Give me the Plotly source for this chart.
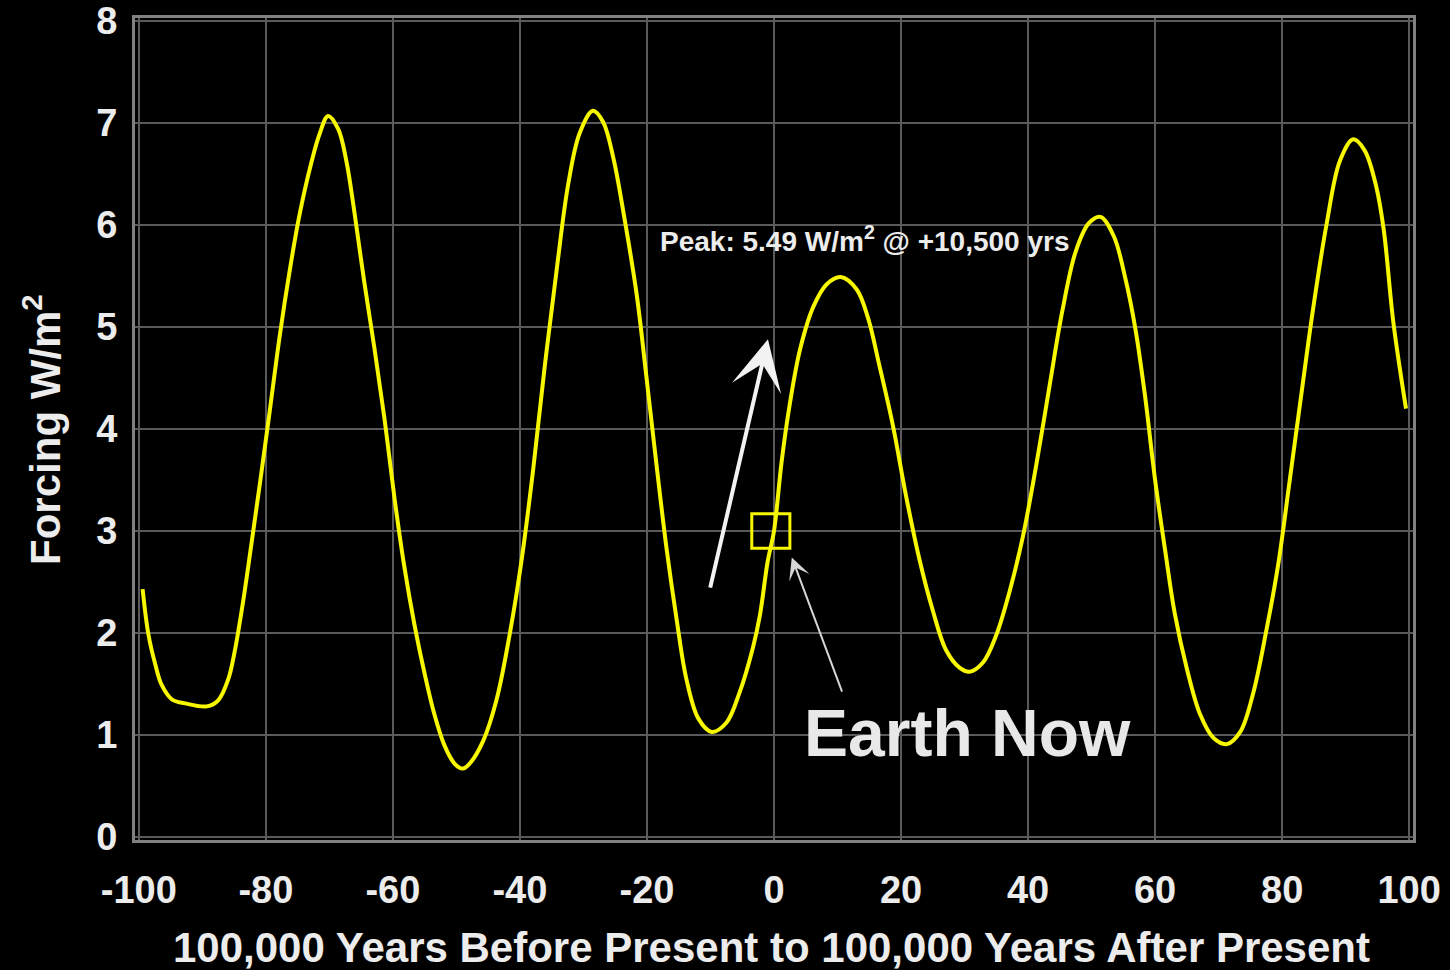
import plotly.graph_objects as go

# Orbital forcing curve, thousands of years relative to present (W/m^2)
years_kyr = [
    -99.4, -98.5, -97.4, -96.4, -94.8, -92.7, -89.3, -87.5, -85.9, -84.9,
    -83.6, -82.3, -80.9, -79.4, -77.8, -76.2, -74.7, -72.8, -71.5, -70.2,
    -68.6, -67.3, -66.0, -64.5, -62.9, -61.3, -59.7, -58.2, -56.6, -55.0,
    -53.5, -51.9, -50.3, -49.0, -47.9, -45.8, -43.7, -41.6, -39.7, -37.9,
    -36.1, -34.2, -32.4, -30.6, -28.5, -26.9, -25.3, -23.5, -21.6, -20.1,
    -18.5, -16.9, -15.3, -13.8, -11.9, -9.8, -7.5, -5.4, -3.3, -2.2,
    -1.0, 0.0, 1.2, 2.5, 4.1, 6.2, 8.3, 10.5, 13.0, 14.8,
    16.6, 18.7, 20.8, 22.9, 25.0, 27.1, 29.2, 30.8, 32.9, 35.0,
    37.1, 39.2, 41.3, 43.4, 45.4, 47.5, 49.6, 51.4, 53.5, 55.3,
    56.9, 58.4, 60.0, 61.6, 63.1, 65.0, 67.1, 69.2, 71.3, 73.4,
    75.4, 77.5, 79.4, 81.2, 83.0, 84.9, 87.0, 89.1, 91.2, 93.0,
    94.8, 96.0, 97.5, 99.5,
]
forcing = [
    2.43, 1.99, 1.69, 1.49, 1.35, 1.31, 1.28, 1.34, 1.55, 1.82,
    2.30, 2.86, 3.48, 4.17, 4.92, 5.57, 6.10, 6.62, 6.90, 7.07,
    6.94, 6.62, 6.10, 5.44, 4.79, 4.09, 3.30, 2.65, 2.08, 1.60,
    1.21, 0.90, 0.72, 0.67, 0.72, 0.94, 1.34, 1.99, 2.73, 3.61,
    4.61, 5.57, 6.40, 6.90, 7.12, 7.01, 6.66, 6.05, 5.31, 4.52,
    3.65, 2.82, 2.12, 1.55, 1.16, 1.03, 1.12, 1.42, 1.86, 2.18,
    2.70, 3.00, 3.68, 4.25, 4.78, 5.20, 5.42, 5.49, 5.37, 5.09,
    4.62, 4.04, 3.34, 2.72, 2.22, 1.83, 1.66, 1.62, 1.71, 1.98,
    2.41, 2.95, 3.65, 4.43, 5.16, 5.74, 6.02, 6.08, 5.89, 5.48,
    4.98, 4.33, 3.50, 2.80, 2.19, 1.65, 1.20, 0.97, 0.91, 1.03,
    1.40, 2.02, 2.68, 3.50, 4.33, 5.19, 6.01, 6.63, 6.84, 6.73,
    6.38, 5.95, 5.05, 4.20,
]

x_ticks = [-100, -80, -60, -40, -20, 0, 20, 40, 60, 80, 100]
y_ticks = [0, 1, 2, 3, 4, 5, 6, 7, 8]

# Present-day position and the next forcing peak
now_year = [-0.5]
now_forcing = [3.0]
peak_year_kyr = [10.5]
peak_forcing = [5.49]

FONT = "Liberation Sans, Arial, sans-serif"
TEXT = "#ececec"

fig = go.Figure()

fig.add_trace(go.Scatter(
    x=years_kyr, y=forcing, mode="lines",
    line=dict(color="#f7f700", width=4, shape="spline", smoothing=1.0),
    hoverinfo="skip", showlegend=False,
))

# "Earth Now" marker box
bx, by = now_year[0], now_forcing[0]
fig.add_shape(type="rect", xref="x", yref="y",
              x0=bx - 3.0, x1=bx + 3.0, y0=by - 0.17, y1=by + 0.17,
              line=dict(color="#f7f700", width=3), fillcolor="rgba(0,0,0,0)")

peak_text = (f"Peak: {peak_forcing[0]:.2f} W/m<sup>2</sup> @ "
             f"+{int(peak_year_kyr[0] * 1000):,} yrs")
fig.add_annotation(x=14.3, y=5.86, xref="x", yref="y", text=peak_text,
                   showarrow=False, xanchor="center", yanchor="middle",
                   font=dict(family=FONT, size=28, color=TEXT, weight="bold"))

# Large arrow pointing up toward the peak
fig.add_annotation(x=-0.95, y=4.88, ax=-10.1, ay=2.43, xref="x", yref="y",
                   axref="x", ayref="y", text="", showarrow=True,
                   arrowhead=3, arrowsize=2.1, arrowwidth=4, arrowcolor="#f2f2f2")

# Thin arrow from the label to the marker box
fig.add_annotation(x=2.8, y=2.74, ax=10.8, ay=1.41, xref="x", yref="y",
                   axref="x", ayref="y", text="", showarrow=True,
                   arrowhead=3, arrowsize=1.8, arrowwidth=2, arrowcolor="#d6d6d6")

fig.add_annotation(x=30.4, y=1.02, xref="x", yref="y", text="Earth Now",
                   showarrow=False, xanchor="center", yanchor="middle",
                   font=dict(family=FONT, size=66, color="#e8e8e8", weight="bold"))

# Axis titles
fig.add_annotation(x=-0.0728, y=0.5, xref="paper", yref="paper",
                   text="Forcing W/m<sup>2</sup>", textangle=-90, showarrow=False,
                   xanchor="center", yanchor="middle",
                   font=dict(family=FONT, size=42, color=TEXT, weight="bold"))
fig.add_annotation(x=0.498, y=-0.131, xref="paper", yref="paper",
                   text="100,000 Years Before Present to 100,000 Years After Present",
                   showarrow=False, xanchor="center", yanchor="middle",
                   font=dict(family=FONT, size=42, color=TEXT, weight="bold"))

axis_common = dict(
    showgrid=True, gridcolor="#5a5a5a", gridwidth=2, zeroline=False,
    showline=True, mirror=True, linecolor="#808080", linewidth=3,
    ticks="outside", tickcolor="rgba(0,0,0,0)",
    tickfont=dict(family=FONT, size=38, color=TEXT, weight="bold"),
    fixedrange=True,
)

fig.update_xaxes(range=[-100.6, 100.6], tickvals=x_ticks,
                 ticktext=[str(v) for v in x_ticks], ticklen=14, **axis_common)
fig.update_yaxes(range=[-0.03, 8.03], tickvals=y_ticks,
                 ticktext=[str(v) for v in y_ticks], ticklen=7, **axis_common)

fig.update_layout(
    width=1450, height=970,
    margin=dict(l=135, r=37, t=18, b=130, autoexpand=False),
    paper_bgcolor="#000000", plot_bgcolor="#000000",
    showlegend=False,
)

fig.write_html("out.html")
